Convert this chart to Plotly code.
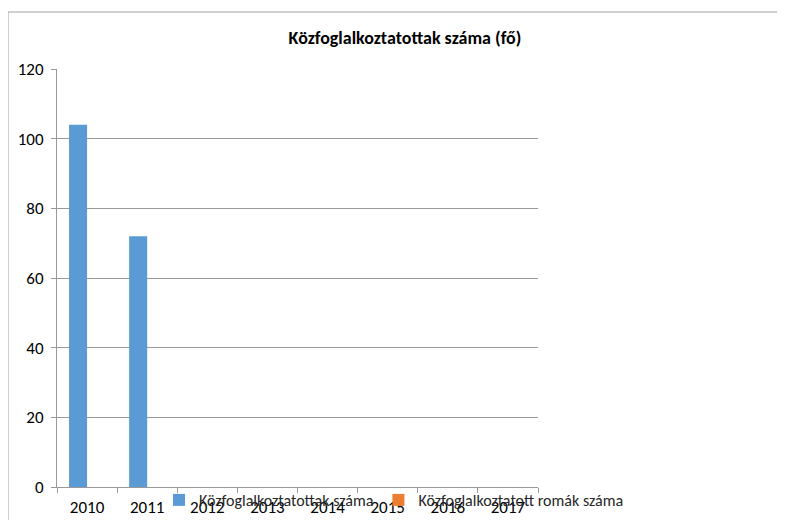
import plotly.graph_objects as go

years = ["2010", "2011", "2012", "2013", "2014", "2015", "2016", "2017"]
kozfoglalkoztatottak = [104, 72, None, None, None, None, None, None]
romak = [None, None, None, None, None, None, None, None]

FONT = "Carlito, Calibri, Lato, 'Liberation Sans', sans-serif"

fig = go.Figure()
fig.add_trace(go.Bar(x=years, y=kozfoglalkoztatottak, name="Közfoglalkoztatottak száma",
                     marker_color="#5B9BD5", marker_line_width=0))
fig.add_trace(go.Bar(x=years, y=romak, name="Közfoglalkoztatott romák száma",
                     marker_color="#ED7D31", marker_line_width=0))

# page has an 8px body margin; figure coordinates = page coordinates - 8
FW, FH = 777, 512
L, R, T, B = 49, 530, 61, 479
W, H = R - L, B - T
GRID = "#999999"

fig.update_layout(
    width=FW, height=FH,
    margin=dict(l=L, r=FW - R, t=T, b=FH - B, autoexpand=False),
    paper_bgcolor="white", plot_bgcolor="white",
    font=dict(family=FONT, size=16, color="#404040"),
    title=dict(text="<b>Közfoglalkoztatottak száma (fő)</b>", x=397 / FW, xanchor="center",
               y=1 - 30 / FH, yanchor="middle", font=dict(size=18, color="#000000", family=FONT)),
    barmode="group", bargap=0.4, bargroupgap=0,
    showlegend=True,
    legend=dict(orientation="h", x=(151 - L) / W, xanchor="left", y=(B - 492) / H, yanchor="middle",
                font=dict(size=16, color="#262626", family=FONT), bgcolor="rgba(0,0,0,0)",
                itemwidth=30, tracegroupgap=0),
    xaxis=dict(type="category", showline=True, linecolor=GRID, linewidth=1,
               ticks="outside", tickson="boundaries", ticklen=5, tickcolor=GRID,
               ticklabelstandoff=5,
               showgrid=False, tickfont=dict(size=17, color="#000000")),
    yaxis=dict(range=[0, 120], dtick=20, showline=True, linecolor=GRID, linewidth=1,
               ticks="outside", ticklen=5, tickcolor=GRID, ticklabelstandoff=4,
               showgrid=True, gridcolor=GRID, gridwidth=1, zeroline=False,
               tickfont=dict(size=17, color="#000000")),
    shapes=[dict(type="rect", xref="paper", yref="paper",
                 x0=(0 - L) / W, x1=(800 - L) / W, y0=(B - 540) / H, y1=(B - 4) / H,
                 line=dict(color="#A0A0A0", width=1), fillcolor="rgba(0,0,0,0)", layer="below")],
)

fig.write_html("out.html")
